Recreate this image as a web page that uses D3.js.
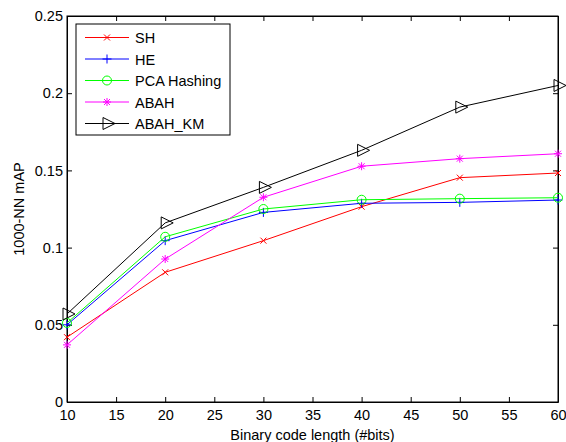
<!DOCTYPE html>
<html>
<head>
<meta charset="utf-8">
<script src="https://cdn.jsdelivr.net/npm/d3@7"></script>
<style>
body { margin: 0; background: #fff; }
svg text { font-family: "Liberation Sans", Arial, sans-serif; }
</style>
</head>
<body>
<svg width="566" height="442"></svg>
<script>
var bits = [10, 20, 30, 40, 50, 60];
var sh = [0.042, 0.084, 0.1045, 0.1265, 0.1453, 0.1483];
var he = [0.050, 0.1045, 0.1228, 0.1287, 0.1293, 0.1308];
var pca = [0.0512, 0.107, 0.125, 0.131, 0.1317, 0.1323];
var abah = [0.037, 0.0926, 0.1326, 0.1527, 0.1576, 0.1608];
var abahKm = [0.057, 0.116, 0.139, 0.163, 0.191, 0.205];
var xTicks = [10, 15, 20, 25, 30, 35, 40, 45, 50, 55, 60];
var yTicks = [0, 0.05, 0.1, 0.15, 0.2, 0.25];

var series = [
    {name: "SH", values: sh, color: "#ff0000", marker: "x"},
    {name: "HE", values: he, color: "#0000ff", marker: "plus"},
    {name: "PCA Hashing", values: pca, color: "#00ff00", marker: "circle"},
    {name: "ABAH", values: abah, color: "#ff00ff", marker: "star"},
    {name: "ABAH_KM", values: abahKm, color: "#000000", marker: "tri"}
];

var svg = d3.select("svg"),
    margin = {top: 16, right: 8, bottom: 40, left: 67},
    width = 566 - margin.left - margin.right,
    height = 442 - margin.top - margin.bottom;

var x = d3.scaleLinear().domain([10, 60]).range([0, width]),
    y = d3.scaleLinear().domain([0, 0.25]).range([height, 0]);

var g = svg.append("g").attr("transform", "translate(" + margin.left + "," + margin.top + ")");

g.append("rect").attr("width", width).attr("height", height)
    .attr("fill", "#fff").attr("stroke", "#000").attr("stroke-width", 1);

var fmt = function(d) { return d3.format("")(+d.toFixed(2)); };

// axes, ticks pointing inward, mirrored on top/right
g.append("g").attr("class", "axis axis--x")
    .attr("transform", "translate(0," + height + ")")
    .call(d3.axisBottom(x).tickValues(xTicks).tickSizeInner(-5).tickSizeOuter(0).tickPadding(8));
g.append("g").attr("class", "axis axis--x2")
    .call(d3.axisTop(x).tickValues(xTicks).tickSizeInner(-5).tickSizeOuter(0).tickFormat(""));
g.append("g").attr("class", "axis axis--y")
    .call(d3.axisLeft(y).tickValues(yTicks).tickSizeInner(-5).tickSizeOuter(0).tickPadding(4).tickFormat(fmt));
g.append("g").attr("class", "axis axis--y2")
    .attr("transform", "translate(" + width + ",0)")
    .call(d3.axisRight(y).tickValues(yTicks).tickSizeInner(-5).tickSizeOuter(0).tickFormat(""));

g.selectAll(".axis path.domain").attr("stroke", "#000");
g.selectAll(".axis text").attr("font-size", 14.5).attr("fill", "#000")
    .style("font-family", "'Liberation Sans', Arial, sans-serif");

function drawMarker(sel, type, color) {
    if (type === "x") {
        sel.append("path").attr("d", "M-3,-3L3,3M-3,3L3,-3").attr("stroke", color).attr("fill", "none");
    } else if (type === "plus") {
        sel.append("path").attr("d", "M-4.5,0L4.5,0M0,-4.5L0,4.5").attr("stroke", color).attr("fill", "none");
    } else if (type === "circle") {
        sel.append("circle").attr("r", 4.5).attr("stroke", color).attr("fill", "none");
    } else if (type === "star") {
        sel.append("path").attr("d", "M-4,0L4,0M0,-4L0,4M-3,-3L3,3M-3,3L3,-3").attr("stroke", color).attr("fill", "none");
    } else if (type === "tri") {
        sel.append("path").attr("d", "M-4,-6L8,0L-4,6Z").attr("stroke", color).attr("fill", "none");
    }
}

var line = d3.line()
    .x(function(d, i) { return x(bits[i]); })
    .y(function(d) { return y(d); });

series.forEach(function(s) {
    g.append("path").datum(s.values)
        .attr("d", line)
        .attr("fill", "none")
        .attr("stroke", s.color)
        .attr("stroke-width", 1);
    s.values.forEach(function(v, i) {
        var m = g.append("g").attr("transform", "translate(" + x(bits[i]) + "," + y(v) + ")");
        drawMarker(m, s.marker, s.color);
    });
});

// legend
var legend = g.append("g").attr("transform", "translate(9,8)");
legend.append("rect").attr("width", 154).attr("height", 111)
    .attr("fill", "#fff").attr("stroke", "#000");
series.forEach(function(s, i) {
    var row = legend.append("g").attr("transform", "translate(0," + (13.5 + i * 21.5) + ")");
    row.append("line").attr("x1", 9).attr("x2", 53).attr("stroke", s.color);
    var m = row.append("g").attr("transform", "translate(31,0)");
    drawMarker(m, s.marker, s.color);
    row.append("text").attr("x", 59).attr("y", 5.5).attr("font-size", 14.5).text(s.name);
});

svg.append("text")
    .attr("x", margin.left + width / 2).attr("y", 440)
    .attr("text-anchor", "middle").attr("font-size", 14.5)
    .text("Binary code length (#bits)");
svg.append("text")
    .attr("transform", "translate(24," + (margin.top + height / 2) + ") rotate(-90)")
    .attr("text-anchor", "middle").attr("font-size", 14.5)
    .text("1000-NN mAP");
</script>
</body>
</html>
